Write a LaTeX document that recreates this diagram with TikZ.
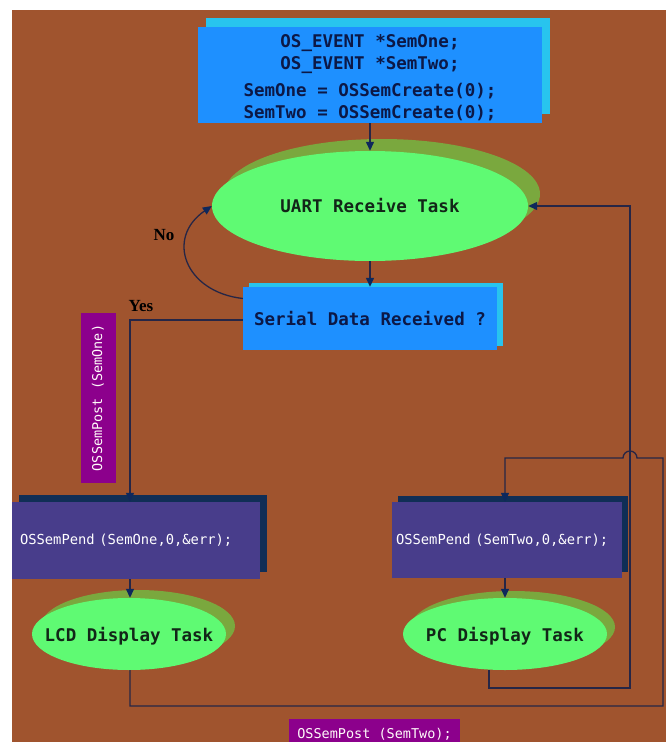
\documentclass[tikz,border=0pt]{standalone}
\usepackage{fontspec}
\newfontfamily\codefont{DejaVu Sans Mono}
\newfontfamily\lblfont{Liberation Serif}
\usetikzlibrary{shapes.geometric,arrows.meta}
\pgfdeclarelayer{bg}
\pgfdeclarelayer{shd}
\pgfsetlayers{bg,shd,main}
\definecolor{bgbrown}{RGB}{160,84,46}
\definecolor{boxblue}{RGB}{30,144,255}
\definecolor{shcyan}{RGB}{40,196,238}
\definecolor{navytext}{RGB}{12,24,70}
\definecolor{taskgreen}{RGB}{95,250,115}
\definecolor{olivesh}{RGB}{122,168,62}
\definecolor{tasktext}{RGB}{18,38,24}
\definecolor{pendblue}{RGB}{72,61,139}
\definecolor{pendsh}{RGB}{16,46,86}
\definecolor{purplebox}{RGB}{140,0,140}
\definecolor{linecol}{RGB}{38,38,70}
\definecolor{tipcol}{RGB}{14,40,92}
\begin{document}
\begin{tikzpicture}[x=1pt,y=-1pt,
  blk/.style={rectangle, fill=boxblue, text=navytext, inner sep=0pt, align=center,
    font=\codefont\bfseries\fontsize{17.5}{22}\selectfont},
  blklbl/.style={text=navytext, inner sep=0pt, align=center,
    font=\codefont\bfseries\fontsize{17.5}{22}\selectfont},
  task/.style={ellipse, fill=taskgreen, inner sep=0pt},
  tasklbl/.style={text=tasktext, inner sep=0pt,
    font=\codefont\bfseries\fontsize{17.5}{22}\selectfont},
  pend/.style={rectangle, fill=pendblue, text=white, align=left, inner ysep=0pt,
    font=\codefont\fontsize{13.8}{16}\selectfont},
  post/.style={rectangle, fill=purplebox, text=white!92!pink, inner sep=0pt,
    font=\codefont\fontsize{13.5}{16}\selectfont},
  yn/.style={inner sep=0pt, text=black, font=\lblfont\bfseries\fontsize{17}{20}\selectfont},
  conn/.style={draw=linecol, line width=1.3pt},
  arr/.style={-{Triangle[length=9pt,width=8pt,color=tipcol,fill=tipcol]}}
]
\useasboundingbox (0,0) rectangle (668,742);
\begin{pgfonlayer}{bg}
  \fill[white] (0,0) rectangle (668,742);
  \fill[bgbrown] (12,10) rectangle (666,742);
\end{pgfonlayer}

% nodes
\node[blk, minimum width=344pt, minimum height=96pt,
  label={[blklbl, yshift=-3pt]center:{OS\_EVENT *SemOne;\\OS\_EVENT *SemTwo;\\[5pt]SemOne = OSSemCreate(0);\\SemTwo = OSSemCreate(0);}}] (top) at (370,75) {};
\node[task, minimum width=316pt, minimum height=110pt,
  label={[tasklbl]center:UART Receive Task}] (uart) at (370,206) {};
\node[blk, minimum width=254pt, minimum height=63pt] (serial) at (370,318.5) {Serial Data Received ?};
\node[pend, minimum height=77pt, inner xsep=8pt, text width=232pt] (lcdpend) at (136,540.5) {OSSemPend (SemOne,0,\&err);};
\node[pend, minimum height=76pt, inner xsep=4pt, text width=222pt] (pcpend) at (507,540) {OSSemPend (SemTwo,0,\&err);};
\node[task, minimum width=194pt, minimum height=72pt,
  label={[tasklbl, yshift=-2pt]center:LCD Display Task}] (lcd) at (129,634) {};
\node[task, minimum width=204pt, minimum height=72pt,
  label={[tasklbl, yshift=-2pt]center:PC Display Task}] (pc) at (505,634) {};
\node[post, rotate=90, minimum width=170pt, minimum height=35pt] (postone) at (98,398) {OSSemPost (SemOne)};
\node[post, minimum width=171pt, minimum height=30pt] (posttwo) at (374.5,734) {OSSemPost (SemTwo);};
\node[yn] (no) at (164,235) {No};
\node[yn] (yes) at (141,306) {Yes};

% shadows
\begin{pgfonlayer}{shd}
  \fill[shcyan] ([shift={(8,-9)}]top.south west) rectangle ([shift={(8,-9)}]top.north east);
  \fill[shcyan] ([shift={(6,-4)}]serial.south west) rectangle ([shift={(6,-4)}]serial.north east);
  \fill[pendsh] ([shift={(7,-7)}]lcdpend.south west) rectangle ([shift={(7,-7)}]lcdpend.north east);
  \fill[pendsh] ([shift={(6,-6)}]pcpend.south west) rectangle ([shift={(6,-6)}]pcpend.north east);
  \fill[olivesh] ([shift={(12,-12)}]uart.center) ellipse [x radius=158pt, y radius=55pt];
  \fill[olivesh] ([shift={(9,-8)}]lcd.center) ellipse [x radius=97pt, y radius=36pt];
  \fill[olivesh] ([shift={(8,-7)}]pc.center) ellipse [x radius=102pt, y radius=36pt];
\end{pgfonlayer}

% coordinates for routing
\coordinate (r1) at (630,688);
\coordinate (r2) at (663,706);
\coordinate (r3) at (663,458);
\coordinate (hopR) at (637,458);
\coordinate (hopL) at (623,458);

% connectors
\draw[conn, arr] (top.south) -- (uart.north);
\draw[conn, arr] (uart.south) -- (serial.north);
\draw[conn, arr] ([yshift=20pt]serial.west) .. controls (185,292) and (165,238) .. (uart.west);
\draw[conn, arr] ([yshift=-1.5pt]serial.west) -| ([xshift=-6pt]lcdpend.north);
\draw[conn, arr] ([xshift=-6pt]lcdpend.south) -- ([xshift=-6pt]lcdpend.south |- lcd.north);
\draw[conn, arr] ([xshift=-2pt]pcpend.south) -- ([xshift=-2pt]pcpend.south |- pc.north);
\draw[conn, arr] ([xshift=-16pt]pc.south) |- (r1) |- (uart.east);
\draw[conn, arr] ([xshift=1pt]lcd.south) |- (r2) -- (r3) -- (hopR)
  arc[start angle=0, end angle=180, radius=7pt] -- (hopL) -| ([xshift=-2pt]pcpend.north);
\end{tikzpicture}
\end{document}
